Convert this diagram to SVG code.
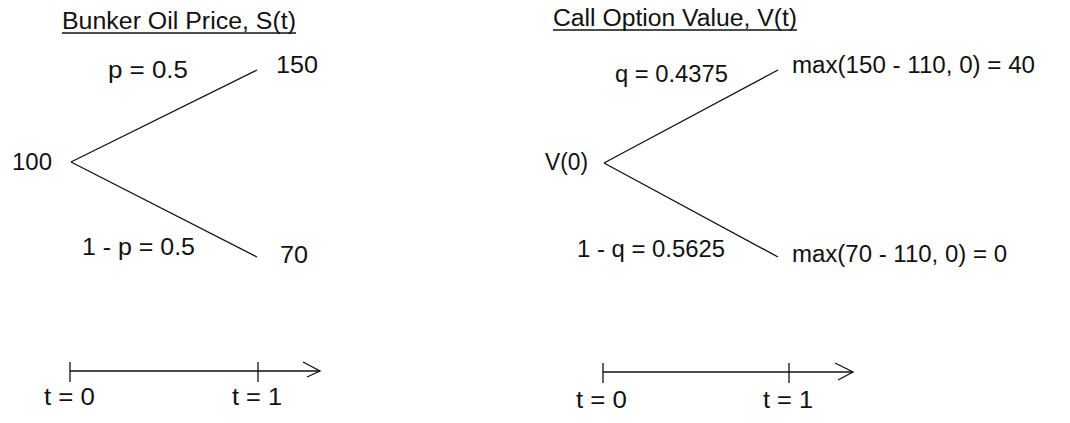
<svg xmlns="http://www.w3.org/2000/svg" width="1070" height="423" viewBox="0 0 1070 423">
<style>
text{font-family:"Liberation Sans",Arial,sans-serif;font-size:23px;fill:#111}
.ln{stroke:#111;stroke-width:1.3;fill:none}
.ul{text-decoration:underline}
</style>
<rect width="1070" height="423" fill="#fff"/>
<g id="titles">
<text id="title-left" x="62" y="29" textLength="234" lengthAdjust="spacingAndGlyphs">Bunker Oil Price, S(t)</text>
<line class="ln" x1="62" y1="33" x2="296" y2="33"/>
<text id="title-right" x="553" y="26" textLength="244" lengthAdjust="spacingAndGlyphs">Call Option Value, V(t)</text>
<line class="ln" x1="553" y1="30" x2="797" y2="30"/>
</g>
<g id="connectors">
<line class="ln" x1="71" y1="162" x2="257" y2="70"/>
<line class="ln" x1="71" y1="162" x2="257" y2="257"/>
<line class="ln" x1="604" y1="163" x2="778" y2="70"/>
<line class="ln" x1="604" y1="163" x2="778" y2="257"/>
</g>
<g id="node-s0"><text x="12" y="170" textLength="40" lengthAdjust="spacingAndGlyphs">100</text></g>
<g id="node-su"><text x="276" y="73" textLength="42" lengthAdjust="spacingAndGlyphs">150</text></g>
<g id="node-sd"><text x="280" y="263" textLength="28" lengthAdjust="spacingAndGlyphs">70</text></g>
<g id="label-p"><text x="108" y="78" textLength="80" lengthAdjust="spacingAndGlyphs">p = 0.5</text></g>
<g id="label-1p"><text x="82" y="255" textLength="113" lengthAdjust="spacingAndGlyphs">1 - p = 0.5</text></g>
<g id="node-v0"><text x="545" y="170" textLength="43" lengthAdjust="spacingAndGlyphs">V(0)</text></g>
<g id="node-vu"><text x="792" y="73" textLength="243" lengthAdjust="spacingAndGlyphs">max(150 - 110, 0) = 40</text></g>
<g id="node-vd"><text x="792" y="262" textLength="215" lengthAdjust="spacingAndGlyphs">max(70 - 110, 0) = 0</text></g>
<g id="label-q"><text x="615" y="82" textLength="113" lengthAdjust="spacingAndGlyphs">q = 0.4375</text></g>
<g id="label-1q"><text x="577" y="257" textLength="148" lengthAdjust="spacingAndGlyphs">1 - q = 0.5625</text></g>
<g id="axis-left">
<line class="ln" x1="70" y1="371" x2="320" y2="371"/>
<line class="ln" x1="70" y1="362" x2="70" y2="382"/>
<line class="ln" x1="258" y1="362" x2="258" y2="382"/>
<polyline class="ln" points="303,362 320,371 307,377"/>
<text x="44" y="405" textLength="51" lengthAdjust="spacingAndGlyphs">t = 0</text>
<text x="232" y="405" textLength="50" lengthAdjust="spacingAndGlyphs">t = 1</text>
</g>
<g id="axis-right">
<line class="ln" x1="603" y1="372" x2="853" y2="372"/>
<line class="ln" x1="603" y1="363" x2="603" y2="383"/>
<line class="ln" x1="789" y1="363" x2="789" y2="383"/>
<polyline class="ln" points="835,363 853,372 838,380"/>
<text x="576" y="408" textLength="51" lengthAdjust="spacingAndGlyphs">t = 0</text>
<text x="763" y="408" textLength="50" lengthAdjust="spacingAndGlyphs">t = 1</text>
</g>
</svg>
